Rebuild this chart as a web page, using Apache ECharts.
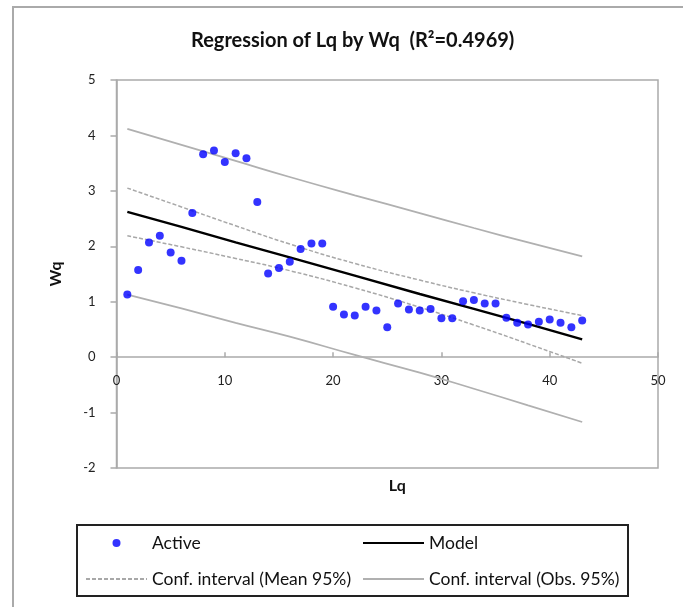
<!DOCTYPE html>
<html>
<head>
<meta charset="utf-8">
<script src="https://cdn.jsdelivr.net/npm/echarts@6/dist/echarts.min.js"></script>
<style>
  html, body { margin: 0; padding: 0; background: #fff; }
  #chart { width: 683px; height: 607px; }
</style>
</head>
<body>
<div id="chart"></div>
<script>
// observations
var lqValues = [1, 2, 3, 4, 5, 6, 7, 8, 9, 10, 11, 12, 13, 14, 15, 16, 17, 18, 19, 20, 21, 22,
  23, 24, 25, 26, 27, 28, 29, 30, 31, 32, 33, 34, 35, 36, 37, 38, 39, 40, 41, 42, 43];
var wqValues = [1.13, 1.57, 2.07, 2.19, 1.89, 1.74, 2.60, 3.66, 3.73, 3.52, 3.68, 3.59, 2.80,
  1.51, 1.61, 1.72, 1.95, 2.05, 2.05, 0.91, 0.77, 0.75, 0.91, 0.84, 0.54, 0.97, 0.86, 0.84,
  0.87, 0.70, 0.70, 1.01, 1.03, 0.97, 0.97, 0.71, 0.62, 0.59, 0.64, 0.68, 0.62, 0.54, 0.66];

// model line and confidence bands, read at a few Lq positions
var curveLq = [1, 6, 11, 16, 22, 28, 33, 38, 43];
var modelWq = [2.62, 2.35, 2.07, 1.80, 1.47, 1.14, 0.87, 0.60, 0.32];
var meanUpper = [3.05, 2.71, 2.37, 2.04, 1.69, 1.39, 1.16, 0.95, 0.75];
var meanLower = [2.19, 1.99, 1.78, 1.56, 1.25, 0.90, 0.58, 0.24, -0.11];
var obsUpper = [4.12, 3.83, 3.54, 3.25, 2.92, 2.60, 2.33, 2.07, 1.82];
var obsLower = [1.13, 0.88, 0.62, 0.37, 0.04, -0.28, -0.57, -0.87, -1.17];

var xTicks = [0, 10, 20, 30, 40, 50];
var yTicks = [-2, -1, 0, 1, 2, 3, 4, 5];

function pairs(xs, ys) {
  var out = [];
  for (var i = 0; i < xs.length; i++) out.push([xs[i], ys[i]]);
  return out;
}

var font = 'Lato';
var obsColor = '#b0b0b0';
var meanColor = '#a8a8a8';

// grid box; the x axis sits on Wq = 0 with its labels just under it
var gridTop = 80, gridBottom = 139, chartH = 607;
var plotH = chartH - gridTop - gridBottom;
var yMin = yTicks[0], yMax = yTicks[yTicks.length - 1];
var zeroOffset = -plotH * (0 - yMin) / (yMax - yMin);

var chart = echarts.init(document.getElementById('chart'));

chart.setOption({
  animation: false,
  textStyle: { fontFamily: font },
  title: {
    text: 'Regression of Lq by Wq  (R\u00b2=0.4969)',
    left: 191,
    top: 31,
    padding: 0,
    textStyle: { fontFamily: font, fontSize: 20, fontWeight: 'bold', color: '#111' }
  },
  grid: {
    left: 116.5, right: 25, top: gridTop, bottom: gridBottom,
    show: true, borderColor: '#aaa', borderWidth: 1.5
  },
  xAxis: {
    type: 'value', min: xTicks[0], max: xTicks[xTicks.length - 1], interval: 10,
    position: 'bottom', offset: zeroOffset,
    name: 'Lq', nameLocation: 'middle', nameGap: 121, nameMoveOverlap: false,
    nameTextStyle: { fontSize: 16, fontWeight: 'bold', color: '#111', padding: [0, 0, 0, 20] },
    axisLine: { onZero: false, lineStyle: { color: '#aaa', width: 1.5 } },
    axisTick: { inside: true, length: 5, lineStyle: { color: '#aaa', width: 1.5 } },
    axisLabel: { margin: 17, fontSize: 13, color: '#222' },
    splitLine: { show: false }
  },
  yAxis: {
    type: 'value', min: yMin, max: yMax, interval: 1,
    name: 'Wq', nameLocation: 'middle', nameGap: 53,
    nameTextStyle: { fontSize: 16, fontWeight: 'bold', color: '#111' },
    axisLine: { show: true, lineStyle: { color: '#aaa', width: 1.5 } },
    axisTick: { show: true, length: 6, lineStyle: { color: '#aaa', width: 1.5 } },
    axisLabel: { margin: 21, fontSize: 13, color: '#222' },
    splitLine: { show: false }
  },
  legend: [
    {
      left: 85, top: 534, orient: 'vertical',
      itemWidth: 61, itemHeight: 8, itemGap: 18, padding: 0,
      textStyle: { fontSize: 17.5, color: '#111' },
      data: [
        { name: 'Active' },
        { name: 'Conf. interval (Mean 95%)', itemStyle: { opacity: 0 } }
      ]
    },
    {
      left: 362, top: 534, orient: 'vertical',
      itemWidth: 61, itemHeight: 8, itemGap: 18, padding: 0,
      textStyle: { fontSize: 17.5, color: '#111' },
      data: [
        { name: 'Model', itemStyle: { opacity: 0 } },
        { name: 'Conf. interval (Obs. 95%)', itemStyle: { opacity: 0 } }
      ]
    }
  ],
  graphic: [
    {
      type: 'polyline',
      shape: { points: [[13, 607], [13, 7], [683, 7]] },
      style: { stroke: '#aaa', lineWidth: 2, fill: null },
      silent: true
    },
    {
      type: 'rect',
      shape: { x: 77, y: 525, width: 551, height: 71 },
      style: { stroke: '#222', lineWidth: 2, fill: null },
      silent: true
    }
  ],
  series: [
    {
      name: 'Conf. interval (Obs. 95%)', type: 'line', symbol: 'none', smooth: true,
      itemStyle: { color: obsColor },
      lineStyle: { color: obsColor, width: 1.8 },
      data: pairs(curveLq, obsUpper)
    },
    {
      name: 'Conf. interval (Obs. 95%)', type: 'line', symbol: 'none', smooth: true,
      itemStyle: { color: obsColor },
      lineStyle: { color: obsColor, width: 1.8 },
      data: pairs(curveLq, obsLower)
    },
    {
      name: 'Conf. interval (Mean 95%)', type: 'line', symbol: 'none', smooth: true,
      itemStyle: { color: meanColor },
      lineStyle: { color: meanColor, width: 1.5, type: [4, 2] },
      data: pairs(curveLq, meanUpper)
    },
    {
      name: 'Conf. interval (Mean 95%)', type: 'line', symbol: 'none', smooth: true,
      itemStyle: { color: meanColor },
      lineStyle: { color: meanColor, width: 1.5, type: [4, 2] },
      data: pairs(curveLq, meanLower)
    },
    {
      name: 'Model', type: 'line', symbol: 'none',
      itemStyle: { color: '#000' },
      lineStyle: { color: '#000', width: 2.5 },
      data: pairs(curveLq, modelWq)
    },
    {
      name: 'Active', type: 'scatter', symbol: 'circle', symbolSize: 8,
      itemStyle: { color: '#0000ff' },
      data: pairs(lqValues, wqValues),
      z: 5
    }
  ]
});
</script>
</body>
</html>
